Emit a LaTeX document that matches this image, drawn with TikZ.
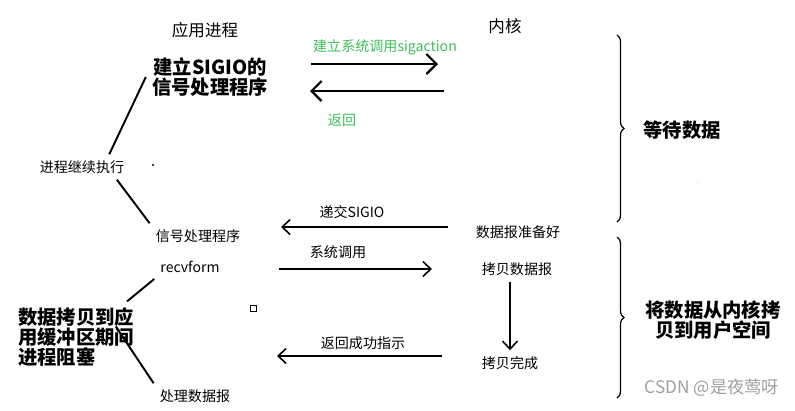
\documentclass[tikz,border=0pt]{standalone}
\usepackage{fontspec}
\newfontfamily\cjk{Noto Sans CJK SC}
\usetikzlibrary{arrows.meta,decorations.pathreplacing}
\definecolor{callgreen}{RGB}{61,190,90}
\begin{document}
\begin{tikzpicture}[x=0.02cm,y=-0.02cm,
  txt/.style={font=\cjk\fontsize{8}{9.5}\selectfont},
  head/.style={font=\cjk\fontsize{9.4}{11}\selectfont},
  big/.style={font=\cjk\bfseries\fontsize{11}{11.4}\selectfont},
  call/.style={txt,text=callgreen},
  tie/.style={line width=1.1pt},
  msg/.style={line width=0.9pt,-{Straight Barb[length=1.6mm,width=3mm]}},
  sys/.style={line width=1.3pt,-{Straight Barb[length=2mm,width=4mm]}},
  side/.style={decorate,decoration={brace,amplitude=4pt},line width=0.7pt}]
\useasboundingbox (0,0) rectangle (795,410);

\node[head] (app) at (205,30) {应用进程};
\node[head] (kern) at (505,26) {内核};

\node[big,align=center] (setup) at (210,77) {建立SIGIO的\\信号处理程序};
\node[txt] (cont) at (82,167) {进程继续执行};
\node[txt] (sig) at (198,236) {信号处理程序};
\node[txt] (recv) at (190,267) {recvform};
\node[big,align=left,anchor=west] (block) at (12,337) {数据拷贝到应\\用缓冲区期间\\进程阻塞};
\node[txt] (proc) at (195,396) {处理数据报};

\node[txt] (ready) at (518,232) {数据报准备好};
\node[txt] (copy) at (517,269) {拷贝数据报};
\node[txt] (done) at (510,363) {拷贝完成};

\draw[tie] (setup.west) -- (cont.25);
\draw[tie] (cont.-20) -- (sig.north west);
\draw[tie] (recv.south west) -- (block.35);
\draw[tie] ([shift={(-14pt,6pt)}]block.east) -- (proc.north west);

\coordinate (c1a) at (311,64);
\coordinate (c1b) at (438,64);
\coordinate (c2a) at (444,91);
\coordinate (c2b) at (310,91);
\coordinate (c3a) at (448,227);
\coordinate (c3b) at (281,227);
\coordinate (c4a) at (279,269);
\coordinate (c4b) at (432,269);
\coordinate (c5a) at (442,356);
\coordinate (c5b) at (277,356);

\draw[sys] (c1a) -- (c1b);
\node[call] (c1lbl) at (385,47) {建立系统调用sigaction};
\draw[sys] (c2a) -- (c2b);
\node[call] (c2lbl) at (342,120) {返回};
\draw[msg] (c3a) -- (c3b);
\node[txt] (c3lbl) at (352,212) {递交SIGIO};
\draw[msg] (c4a) -- (c4b);
\node[txt] (c4lbl) at (338,252) {系统调用};
\draw[msg] (c5a) -- (c5b);
\node[txt] (c5lbl) at (363,343) {返回成功指示};
\draw[msg] (copy.south -| done.north) -- (done.north);

\draw[side] (617,35) -- (617,222);
\draw[side] (617,237) -- (617,398);
\node[big] (wait) at (682,130) {等待数据};
\node[big,align=center,font=\cjk\bfseries\fontsize{11}{10.2}\selectfont] (move) at (713,320) {将数据从内核拷\\贝到用户空间};

\node[draw,minimum size=3.5pt,inner sep=0pt] (sq) at (253,308) {};
\fill (153,165) circle (0.7pt);
\fill[gray!50] (698,182) circle (0.4pt);
\node[font=\cjk\fontsize{9.8}{11}\selectfont,text=gray!75] (mark) at (712,388) {CSDN @是夜莺呀};
\end{tikzpicture}
\end{document}
